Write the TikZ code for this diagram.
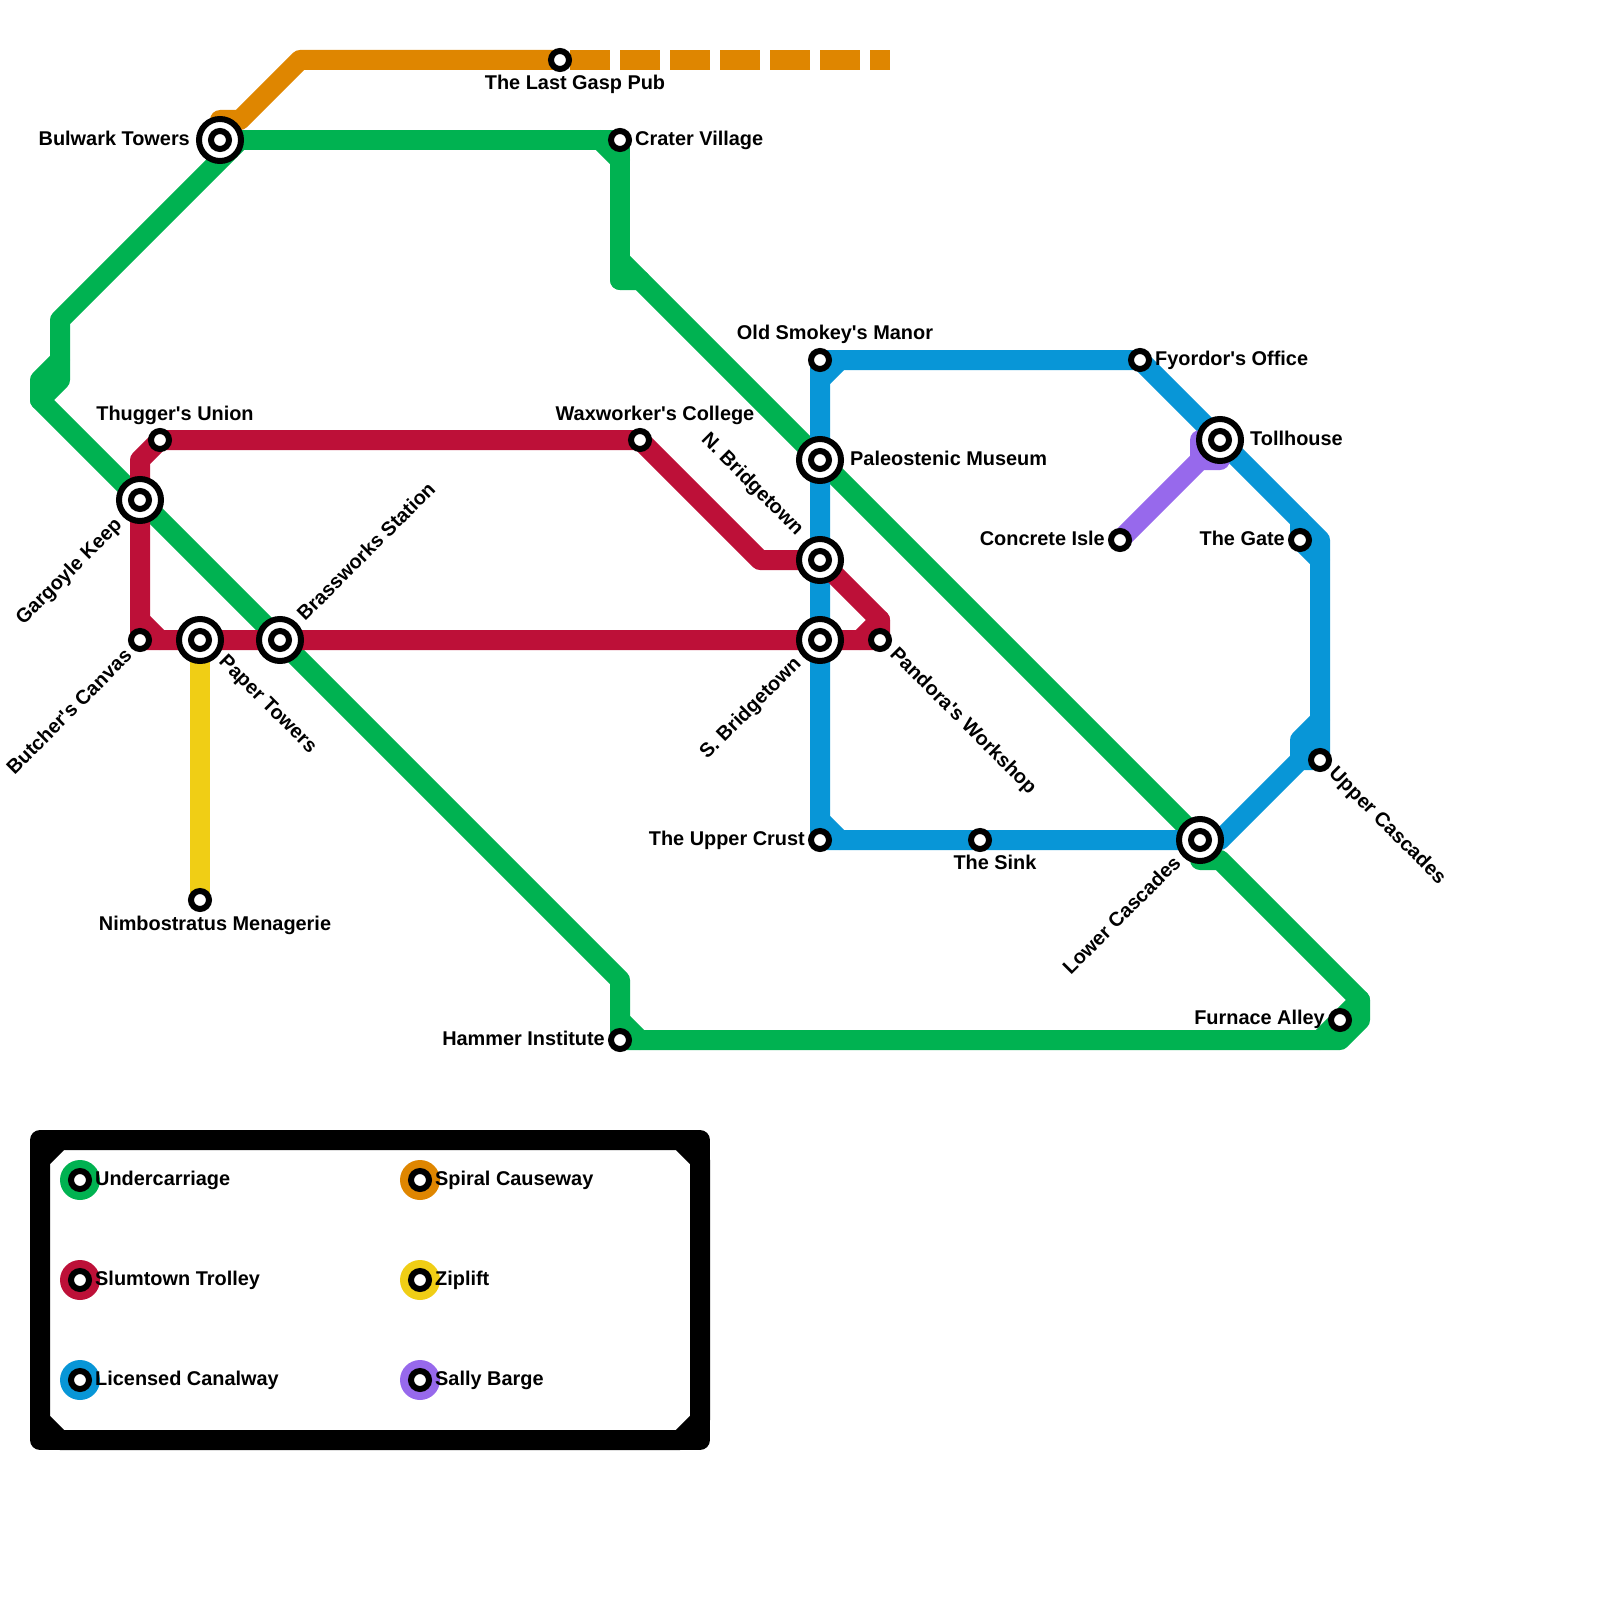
\documentclass[tikz,border=0pt]{standalone}
\usepackage{fontspec}
\newfontfamily\labfont{Liberation Sans Bold}
\definecolor{cgreen}{HTML}{00B251}
\definecolor{corange}{HTML}{DF8600}
\definecolor{cred}{HTML}{BD1038}
\definecolor{cblue}{HTML}{0896D7}
\definecolor{cyellow}{HTML}{F0CE15}
\definecolor{cpurple}{HTML}{9769EC}
\tikzset{
  route/.style={line width=20pt,line join=round,line cap=round},
  smallst/.style={circle,draw=black,fill=white,line width=6pt,minimum size=18pt,inner sep=0pt,outer sep=0pt},
  bigst/.style={circle,draw=black,fill=white,line width=6pt,minimum size=42pt,inner sep=0pt,outer sep=0pt},
  lab/.style={inner sep=0pt,font=\fontsize{19.9}{24}\labfont},
  disc/.style={circle,minimum size=40pt,inner sep=0pt,outer sep=0pt},
}
\newcommand{\bigstation}[1]{\node[bigst] (#1) at (c#1) {}; \node[smallst] (#1in) at (c#1) {};}
\newcommand{\smallstation}[1]{\node[smallst] (#1) at (c#1) {};}
\newcommand{\legenditem}[4]{%
  \node[disc,fill=#2] (#1d) at #3 {};
  \node[smallst] (#1s) at #3 {};
  \node[lab,anchor=base west,xshift=15pt,yshift=-5pt] (#1t) at #3 {#4};}
\begin{document}
\begin{tikzpicture}[x=1pt,y=-1pt]
\useasboundingbox (0,0) rectangle (1600,1600);
% station positions
\coordinate (cbulwark) at (220,140);
\coordinate (ccrater) at (620,140);
\coordinate (cgasp) at (560,60);
\coordinate (cdashend) at (890,60);
\coordinate (chammer) at (620,1040);
\coordinate (cfurnace) at (1340,1020);
\coordinate (clower) at (1200,840);
\coordinate (cpaleo) at (820,460);
\coordinate (cbrass) at (280,640);
\coordinate (cgargoyle) at (140,500);
\coordinate (cthugger) at (160,440);
\coordinate (cwax) at (640,440);
\coordinate (cbutcher) at (140,640);
\coordinate (cpaper) at (200,640);
\coordinate (cnorth) at (820,560);
\coordinate (csouth) at (820,640);
\coordinate (cpandora) at (880,640);
\coordinate (csmokey) at (820,360);
\coordinate (cfyordor) at (1140,360);
\coordinate (ctoll) at (1220,440);
\coordinate (cgate) at (1300,540);
\coordinate (cupper) at (1320,760);
\coordinate (ccrust) at (820,840);
\coordinate (csink) at (980,840);
\coordinate (cnimbo) at (200,900);
\coordinate (cconcrete) at (1120,540);
% Undercarriage
\draw[route,cgreen] (cbulwark) -- (ccrater) -- (620,280);
\draw[route,cgreen] (600,140) -- (620,160);
\draw[route,cgreen] (620,260) -- (640,280) -- (620,280);
\draw[route,cgreen] (640,280) -- (cpaleo) -- (clower) -- (1200,860) -- (1220,860) -- (1360,1000) -- (1360,1020) -- (1340,1040) -- (chammer) -- (620,980) -- (cbrass) -- (cgargoyle) -- (40,400) -- (40,380) -- (60,360);
\draw[route,cgreen] (40,400) -- (60,380) -- (60,320) -- (240,140);
\draw[route,cgreen] (1360,1000) -- (cfurnace) -- (1320,1040);
\draw[route,cgreen] (620,1020) -- (640,1040);
% Spiral Causeway
\draw[route,corange] (cbulwark) -- (220,120) -- (240,120) -- (300,60) -- (cgasp);
\draw[line width=20pt,corange,dash pattern=on 40pt off 10pt,dash phase=40pt] (cgasp) -- (cdashend);
% Licensed Canalway
\draw[route,cblue] (csmokey) -- (ccrust) -- (csink) -- (clower) -- (1220,840) -- (1300,760) -- (cupper) -- (1320,560) -- (cgate) -- (1300,520);
\draw[route,cblue] (1320,720) -- (1300,740) -- (1300,760);
\draw[route,cblue] (1320,560) -- (1320,540) -- (ctoll) -- (cfyordor) -- (csmokey);
\draw[route,cblue] (820,380) -- (840,360);
\draw[route,cblue] (820,820) -- (840,840);
% Slumtown Trolley
\draw[route,cred] (cwax) -- (cthugger) -- (140,460) -- (cbutcher) -- (cpaper) -- (cbrass) -- (csouth) -- (cpandora) -- (880,620) -- (cnorth) -- (760,560) -- (cwax);
\draw[route,cred] (140,620) -- (160,640);
\draw[route,cred] (880,620) -- (860,640);
% Ziplift
\draw[route,cyellow] (cpaper) -- (cnimbo);
% Sally Barge
\draw[route,cpurple] (cconcrete) -- (1200,460) -- (1220,460) -- (ctoll) -- (1200,440) -- (1200,460);
% stations
\bigstation{bulwark}
\bigstation{paper}
\bigstation{brass}
\bigstation{gargoyle}
\bigstation{paleo}
\bigstation{north}
\bigstation{south}
\bigstation{toll}
\bigstation{lower}
\smallstation{crater}
\smallstation{gasp}
\smallstation{hammer}
\smallstation{furnace}
\smallstation{thugger}
\smallstation{wax}
\smallstation{butcher}
\smallstation{pandora}
\smallstation{smokey}
\smallstation{fyordor}
\smallstation{gate}
\smallstation{upper}
\smallstation{crust}
\smallstation{sink}
\smallstation{nimbo}
\smallstation{concrete}
% labels
\node[lab,anchor=base east] (lbulwark) at (190,145.5) {Bulwark Towers};
\node[lab,anchor=base west] (lcrater) at (635,145.5) {Crater Village};
\node[lab,anchor=base] (lgasp) at (575,90) {The Last Gasp Pub};
\node[lab,anchor=base] (lthugger) at (175,420) {Thugger's Union};
\node[lab,anchor=base] (lwax) at (655,420) {Waxworker's College};
\node[lab,anchor=base] (lsmokey) at (835,339.5) {Old Smokey's Manor};
\node[lab,anchor=base west] (lfyordor) at (1155,365) {Fyordor's Office};
\node[lab,anchor=base west] (ltoll) at (1250,445) {Tollhouse};
\node[lab,anchor=base west] (lpaleo) at (850,465) {Paleostenic Museum};
\node[lab,anchor=base east] (lgate) at (1285,545) {The Gate};
\node[lab,anchor=base east] (lconcrete) at (1105,545) {Concrete Isle};
\node[lab,anchor=base east] (lfurnace) at (1325,1024.5) {Furnace Alley};
\node[lab,anchor=base east] (lhammer) at (605,1045) {Hammer Institute};
\node[lab,anchor=base east] (lcrust) at (805,845) {The Upper Crust};
\node[lab,anchor=base] (lsink) at (995,869.5) {The Sink};
\node[lab,anchor=base] (lnimbo) at (215,930) {Nimbostratus Menagerie};
\node[lab,anchor=base west,rotate=45] (lbrass) at (305,622) {Brassworks Station};
\node[lab,anchor=base east,rotate=45] (lgargoyle) at (123,526) {Gargoyle Keep};
\node[lab,anchor=base east,rotate=45] (lbutcher) at (133,657) {Butcher's Canvas};
\node[lab,anchor=base east,rotate=45] (lsouth) at (802,665) {S. Bridgetown};
\node[lab,anchor=base east,rotate=45] (llower) at (1182,864) {Lower Cascades};
\node[lab,anchor=base west,rotate=-45] (lpaper) at (218,662.5) {Paper Towers};
\node[lab,anchor=base east,rotate=-45] (lnorth) at (796,536) {N. Bridgetown};
\node[lab,anchor=base west,rotate=-45] (lpandora) at (889,655) {Pandora's Workshop};
\node[lab,anchor=base west,rotate=-45] (lupper) at (1328,774.5) {Upper Cascades};
% legend
\draw[line width=20pt,line join=round,black] (40,1160) -- (60,1140) -- (680,1140) -- (700,1160) -- (700,1420) -- (680,1440) -- (60,1440) -- (40,1420) -- cycle;
\draw[line width=20pt,line join=round,black] (40,1140) rectangle (700,1440);
\legenditem{a}{cgreen}{(80,1180)}{Undercarriage}
\legenditem{b}{cred}{(80,1280)}{Slumtown Trolley}
\legenditem{c}{cblue}{(80,1380)}{Licensed Canalway}
\legenditem{d}{corange}{(420,1180)}{Spiral Causeway}
\legenditem{e}{cyellow}{(420,1280)}{Ziplift}
\legenditem{f}{cpurple}{(420,1380)}{Sally Barge}
\end{tikzpicture}
\end{document}
